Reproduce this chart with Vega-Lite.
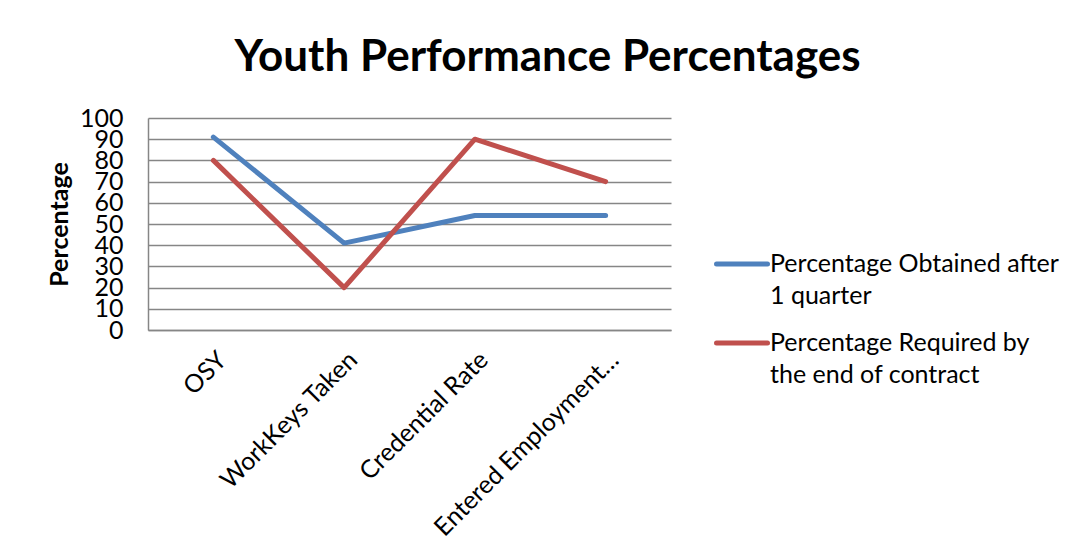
{
  "$schema": "https://vega.github.io/schema/vega-lite/v6.json",
  "width": 523,
  "height": 212,
  "autosize": {"type": "none"},
  "padding": {"left": 148, "top": 118, "right": 401, "bottom": 216},
  "background": "white",
  "title": {
    "text": "Youth Performance Percentages",
    "font": "Lato",
    "fontSize": 44,
    "fontWeight": "bold",
    "color": "black",
    "anchor": "middle",
    "frame": "group",
    "dx": 138,
    "offset": 26
  },
  "data": {
    "values": [
      {"category": "OSY", "series": "Percentage Obtained after 1 quarter", "value": 91},
      {"category": "WorkKeys Taken", "series": "Percentage Obtained after 1 quarter", "value": 41},
      {"category": "Credential Rate", "series": "Percentage Obtained after 1 quarter", "value": 54},
      {"category": "Entered Employment…", "series": "Percentage Obtained after 1 quarter", "value": 54},
      {"category": "OSY", "series": "Percentage Required by the end of contract", "value": 80},
      {"category": "WorkKeys Taken", "series": "Percentage Required by the end of contract", "value": 20},
      {"category": "Credential Rate", "series": "Percentage Required by the end of contract", "value": 90},
      {"category": "Entered Employment…", "series": "Percentage Required by the end of contract", "value": 70}
    ]
  },
  "mark": {"type": "line", "strokeWidth": 5, "strokeCap": "round", "strokeJoin": "round"},
  "encoding": {
    "x": {
      "field": "category",
      "type": "nominal",
      "sort": null,
      "scale": {"type": "point", "padding": 0.5},
      "axis": {
        "title": null,
        "labelAngle": -45,
        "labelFont": "Lato",
        "labelFontSize": 25,
        "labelColor": "black",
        "labelPadding": 17,
        "labelLimit": 0,
        "ticks": false,
        "grid": false,
        "domainColor": "#868686",
        "domainWidth": 1.5
      }
    },
    "y": {
      "field": "value",
      "type": "quantitative",
      "scale": {"domain": [0, 100], "nice": false, "zero": true},
      "axis": {
        "title": "Percentage",
        "titleFont": "Lato",
        "titleFontSize": 25,
        "titleFontWeight": "bold",
        "titleColor": "black",
        "titlePadding": 7,
        "values": [0, 10, 20, 30, 40, 50, 60, 70, 80, 90, 100],
        "labelFont": "Lato",
        "labelFontSize": 25,
        "labelColor": "black",
        "labelPadding": 25,
        "labelFlush": false,
        "labelOverlap": false,
        "ticks": false,
        "grid": true,
        "gridColor": "#868686",
        "gridWidth": 1.5,
        "domainColor": "#868686",
        "domainWidth": 1.5
      }
    },
    "color": {
      "field": "series",
      "type": "nominal",
      "scale": {
        "domain": ["Percentage Obtained after 1 quarter", "Percentage Required by the end of contract"],
        "range": ["#4F81BD", "#C0504D"]
      },
      "legend": {
        "title": null,
        "orient": "none",
        "legendX": 566,
        "legendY": 118,
        "padding": 0,
        "symbolType": "stroke",
        "symbolSize": 2601,
        "symbolStrokeWidth": 5,
        "labelFont": "Lato",
        "labelFontSize": 25,
        "labelColor": "black",
        "labelLimit": 0,
        "labelOffset": 0,
        "labelBaseline": "middle",
        "rowPadding": 6,
        "labelExpr": "datum.value == 'Percentage Obtained after 1 quarter' ? ['Percentage Obtained after', '1 quarter'] : ['Percentage Required by', 'the end of contract']",
        "encode": {
          "labels": {"update": {"lineHeight": {"value": 32}}},
          "symbols": {"update": {"strokeCap": {"value": "round"}}}
        }
      }
    }
  },
  "config": {"view": {"stroke": null}}
}
